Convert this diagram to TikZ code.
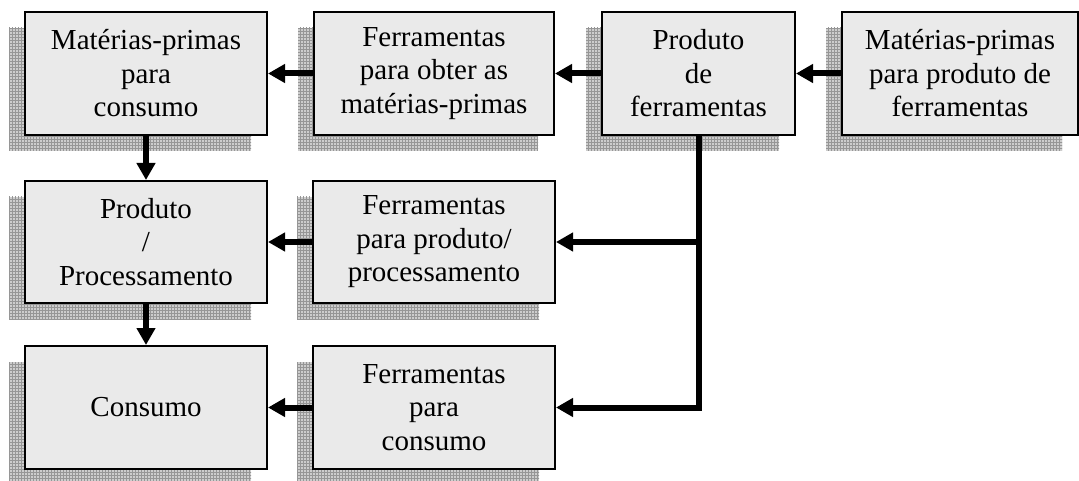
\documentclass[tikz,border=0pt]{standalone}
\usepackage{fontspec}
\setmainfont{Liberation Serif}
\usetikzlibrary{arrows.meta,patterns}
\definecolor{boxfill}{RGB}{234,234,234}
\definecolor{shadowfill}{RGB}{205,205,205}
\definecolor{shadowline}{RGB}{150,150,150}
\begin{document}
\begin{tikzpicture}[x=1pt,y=-1pt,
  box/.style={draw=black,line width=2pt,fill=boxfill,inner sep=0pt,align=center,
    font=\fontsize{29}{33.5}\selectfont},
  shadowbox/.style={fill=shadowfill,pattern=grid,pattern color=shadowline},
  conn/.style={line width=6pt,-{Triangle[length=17pt,width=18pt]}}]
\useasboundingbox (0,0) rectangle (1079,481);
% shadows
\foreach \xa/\ya/\xb/\yb in {25/12/267/135, 314/12/554/135, 602/12/795/135, 842/12/1078/135,
  25/181/267/303, 313/181/555/303, 25/346/267/469, 313/346/555/469}{
  \fill[fill=shadowfill] (\xa-16,\ya+16) rectangle (\xb-16,\yb+16);
  \fill[pattern=grid,pattern color=shadowline] (\xa-16,\ya+16) rectangle (\xb-16,\yb+16);
}
% boxes
\node[box,minimum width=242pt,minimum height=123pt] (A) at (146,73.5) {Matérias-primas\\para\\consumo};
\node[box,minimum width=240pt,minimum height=123pt] (B) at (434,73.5) {Ferramentas\\para obter as\\matérias-primas};
\node[box,minimum width=193pt,minimum height=123pt] (C) at (698.5,73.5) {Produto\\de\\ferramentas};
\node[box,minimum width=236pt,minimum height=123pt] (D) at (960,73.5) {Matérias-primas\\para produto de\\ferramentas};
\node[box,minimum width=242pt,minimum height=122pt] (E) at (146,242) {Produto\\/\\Processamento};
\node[box,minimum width=242pt,minimum height=122pt] (F) at (434,242) {Ferramentas\\para produto/\\processamento};
\node[box,minimum width=242pt,minimum height=123pt] (G) at (146,407.5) {Consumo};
\node[box,minimum width=242pt,minimum height=123pt] (H) at (434,407.5) {Ferramentas\\para\\consumo};
% connectors
\draw[conn] (B) -- (A);
\draw[conn] (C) -- (B);
\draw[conn] (D) -- (C);
\draw[conn] (A) -- (E);
\draw[conn] (E) -- (G);
\draw[conn] (F) -- (E);
\draw[conn] (H) -- (G);
\draw[conn] (C.south) |- (H.east);
\draw[conn] (C.south |- F.east) -- (F.east);
\end{tikzpicture}
\end{document}
